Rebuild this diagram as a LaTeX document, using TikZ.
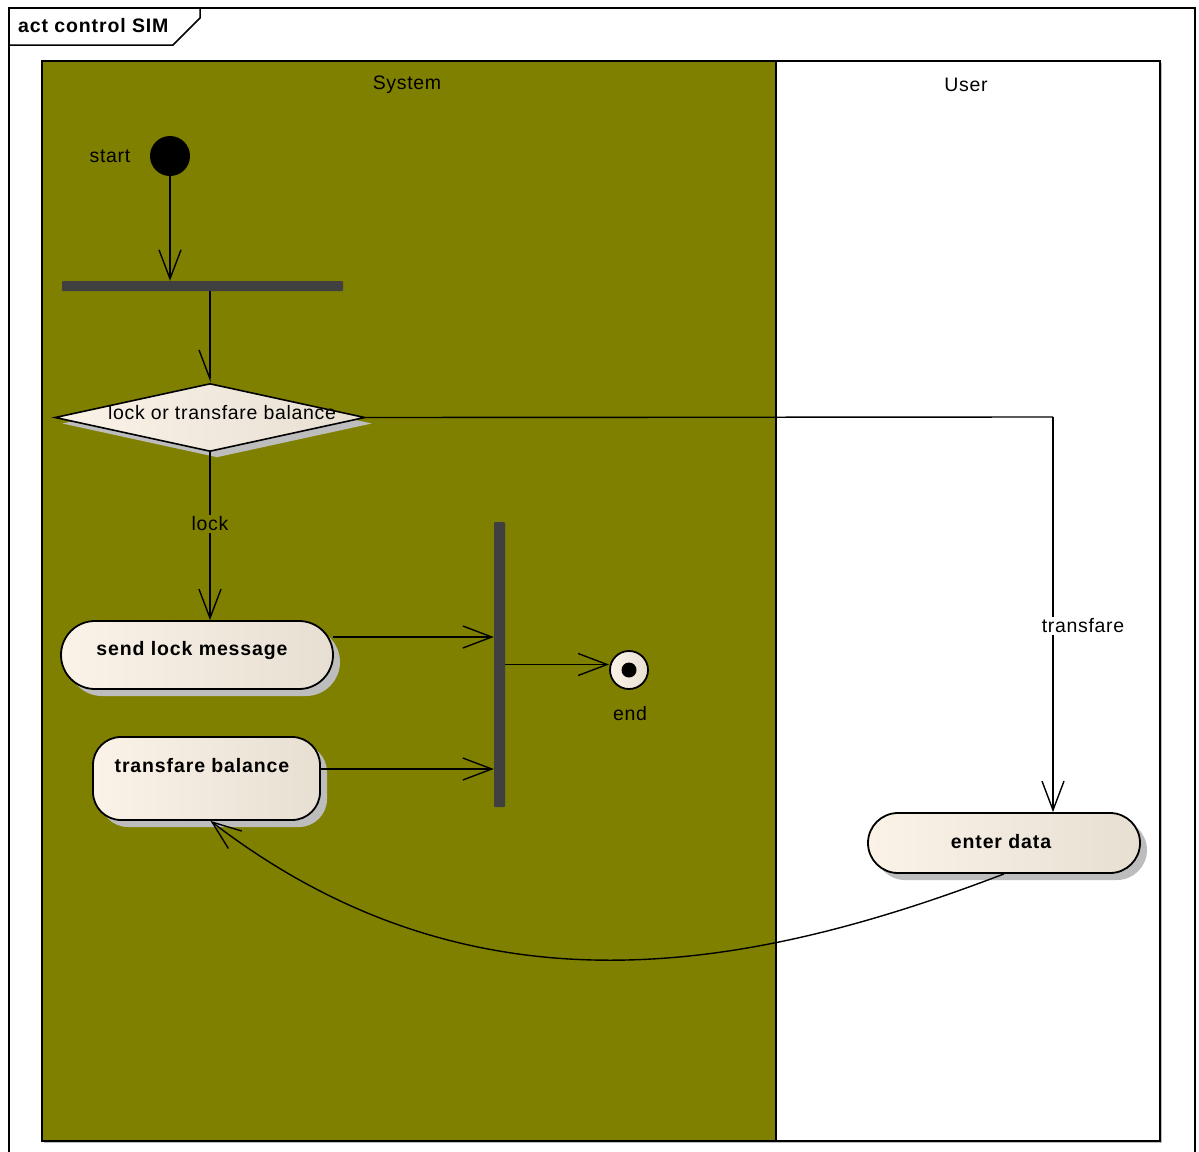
\documentclass[tikz,border=0pt]{standalone}
\usepackage{fontspec}
\setmainfont{Liberation Sans}
\newfontfamily\lsreg[LetterSpace=3.5]{Liberation Sans}
\newfontfamily\lsbold[LetterSpace=4.5]{Liberation Sans Bold}
\usetikzlibrary{arrows.meta,shapes.geometric,shadows}
\definecolor{olivelane}{HTML}{808000}
\definecolor{barcol}{HTML}{404040}
\definecolor{nodeL}{HTML}{FBF3E8}
\definecolor{nodeR}{HTML}{E8DFD3}
\definecolor{shadowcol}{HTML}{BDBDBD}
\tikzset{
  flow/.style={line width=1.4pt, -{Straight Barb[length=29pt,width=22pt,line width=1.4pt]}},
  plain/.style={line width=1.4pt},
  actbox/.style={draw=black, line width=1.8pt, left color=nodeL, right color=nodeR,
     drop shadow={shadow xshift=7pt, shadow yshift=-7pt, fill=shadowcol, opacity=1}},
  btxt/.style={font=\fontsize{19.5}{21}\lsbold, inner sep=0pt},
  rtxt/.style={font=\fontsize{19.5}{21}\lsreg, inner sep=0pt},
  barstyle/.style={fill=barcol, draw=none, inner sep=0pt, rounded corners=1pt}
}
\begin{document}
\begin{tikzpicture}[x=1pt,y=-1pt]
\useasboundingbox (0,0) rectangle (1199,1151);
\fill[white] (0,0) rectangle (1199,1151);
% frame
\draw[line width=1.8pt] (9,1160) -- (9,8) -- (1195,8) -- (1195,1160);
\draw[line width=1.5pt] (9,45) -- (173,45) -- (200,18) -- (200,8);
\node[font=\fontsize{19.5}{21}\lsbold, anchor=west, inner sep=0pt] (title) at (18,26) {act control SIM};
% lanes
\fill[shadowcol] (44,63) rectangle (1162,1143);
\fill[olivelane] (42,61) rectangle (776,1141);
\fill[white] (776,61) rectangle (1160,1141);
\draw[line width=1.8pt] (42,61) rectangle (1160,1141);
\draw[line width=1.8pt] (776,61) -- (776,1141);
\node[rtxt] (lsys) at (407,85) {System};
\node[rtxt] (lusr) at (966,85) {User};
% start
\node[circle, fill=black, minimum size=40pt, inner sep=0pt] (start) at (170,156) {};
\node[rtxt] (startl) at (110,156) {start};
% fork bar
\node[barstyle, minimum width=281pt, minimum height=10pt] (fork) at (202.5,286) {};
% decision
\node[diamond, draw=black, line width=1.6pt, left color=nodeL, right color=nodeR,
      minimum width=310pt, minimum height=68pt, inner sep=0pt, aspect=4.56,
      drop shadow={shadow xshift=7pt, shadow yshift=-6pt, fill=shadowcol, opacity=1}] (dec) at (210,417.5) {};
\node[rtxt] (dect) at (222,413) {lock or transfare balance};
% actions
\node[actbox, rounded corners=34pt, minimum width=272pt, minimum height=68pt, inner sep=0pt] (slm) at (197,655) {};
\node[btxt] (slmt) at (192,650) {send lock message};
\node[actbox, rounded corners=28pt, minimum width=227pt, minimum height=83pt, inner sep=0pt] (tb) at (206.5,778.5) {};
\node[btxt] (tbt) at (202,766) {transfare balance};
\node[actbox, rounded corners=30pt, minimum width=272pt, minimum height=60pt, inner sep=0pt] (ed) at (1004,843) {};
\node[btxt] (edt) at (1001,842) {enter data};
% join bar
\node[barstyle, minimum width=11pt, minimum height=285pt] (join) at (499.5,664.5) {};
% end
\node[circle, draw=black, line width=1.8pt, left color=nodeL, right color=nodeR, minimum size=38pt, inner sep=0pt] (endn) at (629,670) {};
\node[circle, fill=black, minimum size=15pt, inner sep=0pt] (endd) at (629,670) {};
\node[rtxt] (endl) at (630,714) {end};
% helper coordinates
\coordinate (turn) at (1053,417);
% connectors
\draw[flow] (start.south) -- (start.south |- fork.north);
\draw[line width=1.4pt, -{Straight Barb[right,length=29pt,width=22pt,line width=1.4pt]}] (dec.north |- fork.south) -- (dec.north);
\draw[plain] (dec.east) -- (turn);
\draw[flow] (turn) -- (turn |- ed.north);
\node[rtxt, fill=white, inner sep=2pt] (lbltr) at (1083,626) {transfare};
\draw[flow] (dec.south) -- (slm.north -| dec.south);
\node[rtxt, fill=olivelane, inner sep=2pt] (lbllock) at (210,524) {lock};
\draw[flow] (333,637) coordinate (slmout) -- (slmout -| join.west);
\draw[flow] (320,769) coordinate (tbout) -- (tbout -| join.west);
\draw[flow] (join.east) -- (join.east -| endn.west);
\draw[flow] (ed.south) .. controls (740,975) and (470,1020) .. ([xshift=4pt]tb.south);
\end{tikzpicture}
\end{document}
